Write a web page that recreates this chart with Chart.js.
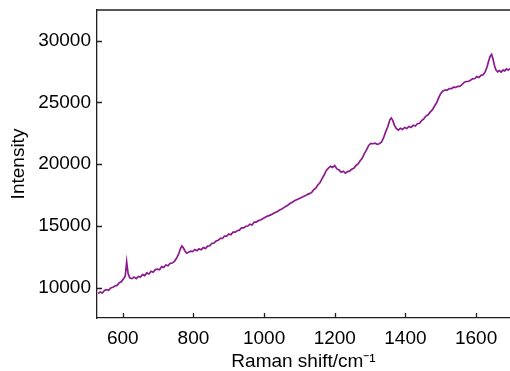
<!DOCTYPE html>
<html>
<head>
<meta charset="utf-8">
<script src="https://cdn.jsdelivr.net/npm/chart.js@4"></script>
<style>
  html, body { margin: 0; padding: 0; background: #fff; }
  #wrap { width: 510px; height: 371px; position: relative; }
</style>
</head>
<body>
<div id="wrap"><canvas id="ramanChart"></canvas></div>
<script>
const shift = [530, 536, 542, 548, 554, 560, 566, 572, 578, 584, 590, 596, 602, 607, 611, 615, 620, 626, 632, 638,
  644, 650, 656, 662, 668, 674, 680, 686, 692, 698, 704, 710, 716, 722, 728, 734, 740, 746, 752, 758,
  763, 767, 771, 776, 781, 786, 792, 798, 804, 810, 816, 822, 828, 834, 840, 846, 852, 858, 864, 870,
  876, 882, 888, 894, 900, 906, 912, 918, 924, 930, 936, 942, 948, 954, 960, 966, 972, 978, 984, 990,
  996, 1002, 1008, 1014, 1020, 1026, 1032, 1038, 1044, 1050, 1056, 1062, 1068, 1074, 1080, 1086, 1092, 1098, 1104, 1110,
  1116, 1122, 1128, 1134, 1140, 1146, 1152, 1158, 1164, 1170, 1176, 1182, 1188, 1194, 1200, 1206, 1212, 1218, 1224, 1230,
  1236, 1242, 1248, 1254, 1260, 1266, 1272, 1278, 1284, 1290, 1296, 1302, 1308, 1314, 1320, 1326, 1332, 1338, 1344, 1350,
  1356, 1360, 1364, 1369, 1374, 1380, 1386, 1392, 1398, 1404, 1410, 1416, 1422, 1428, 1434, 1440, 1446, 1452, 1458, 1464,
  1470, 1476, 1482, 1488, 1494, 1500, 1506, 1512, 1518, 1524, 1530, 1536, 1542, 1548, 1554, 1560, 1566, 1572, 1578, 1584,
  1590, 1596, 1602, 1608, 1614, 1620, 1626, 1631, 1636, 1640, 1644, 1648, 1652, 1656, 1661, 1666, 1671, 1676, 1681, 1686,
  1691, 1696];
const intensity = [9520, 9660, 9580, 9780, 9840, 9800, 9980, 10040, 10140, 10190, 10400, 10480, 10720, 10950, 12100, 11150, 10780, 10740, 10860, 10740,
  10920, 10860, 11060, 10980, 11200, 11120, 11340, 11260, 11470, 11500, 11460, 11720, 11640, 11840, 11780, 11980, 12000, 12140, 12380, 12720,
  13150, 13380, 13250, 12980, 12800, 12880, 12960, 12920, 13100, 13000, 13150, 13080, 13250, 13180, 13370, 13400, 13580, 13620, 13780, 13840,
  14000, 14000, 14190, 14180, 14360, 14290, 14500, 14500, 14620, 14660, 14840, 14840, 14980, 15000, 15150, 15080, 15320, 15320, 15440, 15480,
  15580, 15680, 15780, 15840, 15920, 16020, 16100, 16180, 16300, 16380, 16490, 16600, 16700, 16840, 16920, 17040, 17120, 17200, 17280, 17360,
  17440, 17540, 17620, 17700, 17920, 18060, 18320, 18500, 18840, 19130, 19500, 19680, 19840, 19740, 19900, 19620, 19540, 19360, 19440, 19280,
  19400, 19440, 19600, 19680, 19900, 20030, 20280, 20500, 20880, 21160, 21520, 21680, 21660, 21700, 21620, 21660, 21780, 22130, 22620, 23030,
  23600, 23750, 23550, 23150, 22900, 22760, 22920, 22820, 22980, 22900, 23060, 22980, 23160, 23100, 23280, 23320, 23540, 23680, 23900, 24000,
  24220, 24400, 24700, 24960, 25370, 25730, 25940, 26000, 26000, 26120, 26120, 26240, 26220, 26300, 26300, 26440, 26620, 26700, 26700, 26800,
  26920, 26940, 27100, 27020, 27200, 27240, 27500, 27880, 28400, 28750, 28900, 28500, 28000, 27650, 27480, 27580, 27460, 27620, 27560, 27720,
  27620, 27740];

const xTicks = [600, 800, 1000, 1200, 1400, 1600];
const yTicks = [10000, 15000, 20000, 25000, 30000];

const axisColor = '#231f20';
const fontFamily = '"Liberation Sans", Arial, sans-serif';

// ticks point inward, plus a top border line (no right border in the original)
const frame = {
    id: 'frame',
    afterDraw(chart) {
        const ctx = chart.ctx;
        const area = chart.chartArea;
        const xs = chart.scales.x;
        const ys = chart.scales.y;
        ctx.save();
        ctx.strokeStyle = axisColor;
        ctx.lineWidth = 1.3;
        ctx.beginPath();
        ctx.moveTo(area.left, area.top);
        ctx.lineTo(area.right, area.top);
        xTicks.forEach(v => {
            const px = Math.round(xs.getPixelForValue(v)) + 0.5;
            ctx.moveTo(px, area.bottom);
            ctx.lineTo(px, area.bottom - 5);
        });
        yTicks.forEach(v => {
            const py = Math.round(ys.getPixelForValue(v)) + 0.5;
            ctx.moveTo(area.left, py);
            ctx.lineTo(area.left + 5, py);
        });
        ctx.stroke();
        ctx.restore();
    }
};

const ctx = document.getElementById('ramanChart').getContext('2d');
const ramanChart = new Chart(ctx, {
    type: 'line',
    data: {
        datasets: [{
            data: shift.map((s, i) => ({ x: s, y: intensity[i] })),
            borderColor: '#8b1a8e',
            borderWidth: 1.7,
            pointRadius: 0,
            tension: 0,
            fill: false,
        }]
    },
    options: {
        responsive: true,
        maintainAspectRatio: false,
        animation: false,
        layout: { padding: { top: 10, right: 0, left: 0, bottom: 0 } },
        plugins: { legend: { display: false }, tooltip: { enabled: false } },
        scales: {
            x: {
                type: 'linear',
                min: 527,
                max: 1696,
                afterBuildTicks: s => { s.ticks = xTicks.map(v => ({ value: v })); },
                afterFit: s => { s.height = 53; s.paddingLeft = 0; s.paddingRight = 0; },
                grid: { drawOnChartArea: false, drawTicks: false },
                border: { display: true, color: axisColor, width: 1.3 },
                ticks: { color: '#000', padding: 9, callback: v => String(v), font: { family: fontFamily, size: 19 } },
                title: {
                    display: true,
                    text: 'Raman shift/cm⁻¹',
                    color: '#000',
                    padding: { top: 0, bottom: 0 },
                    font: { family: fontFamily, size: 19, lineHeight: 1 }
                }
            },
            y: {
                min: 7550,
                max: 32490,
                afterBuildTicks: s => { s.ticks = yTicks.map(v => ({ value: v })); },
                afterFit: s => { s.width = 97; s.paddingTop = 0; s.paddingBottom = 0; },
                grid: { drawOnChartArea: false, drawTicks: false },
                border: { display: true, color: axisColor, width: 1.3 },
                ticks: { color: '#000', padding: 6, callback: v => String(v), font: { family: fontFamily, size: 19 } },
                title: {
                    display: true,
                    text: 'Intensity',
                    color: '#000',
                    padding: { top: 7, bottom: 0 },
                    font: { family: fontFamily, size: 19 }
                }
            }
        }
    },
    plugins: [frame]
});
</script>
</body>
</html>
